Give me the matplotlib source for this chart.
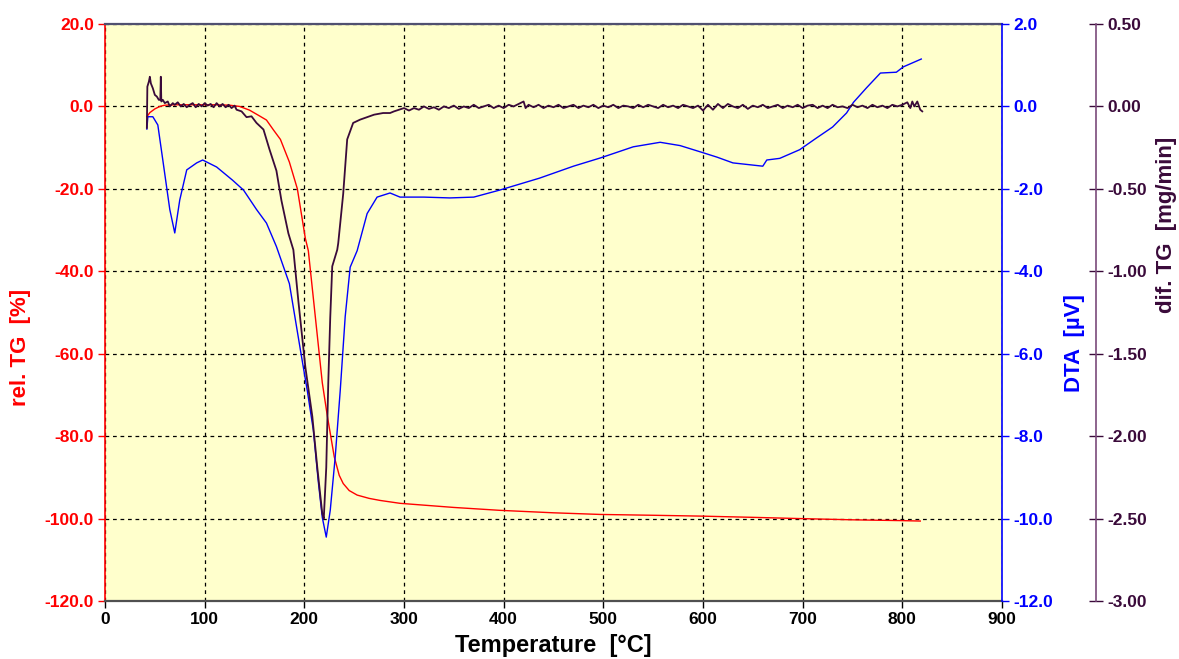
import matplotlib
matplotlib.use("Agg")
import matplotlib.pyplot as plt

plt.rcParams['font.family'] = ['Liberation Sans', 'DejaVu Sans']
plt.rcParams['font.weight'] = 'bold'

# ---------------- data ----------------
temp_ticks = [0, 100, 200, 300, 400, 500, 600, 700, 800, 900]
temp_labels = ['0', '100', '200', '300', '400', '500', '600', '700', '800', '900']

tg_ticks = [20, 0, -20, -40, -60, -80, -100, -120]
tg_labels = ['20.0', '0.0', '-20.0', '-40.0', '-60.0', '-80.0', '-100.0', '-120.0']
dta_ticks = [2, 0, -2, -4, -6, -8, -10, -12]
dta_labels = ['2.0', '0.0', '-2.0', '-4.0', '-6.0', '-8.0', '-10.0', '-12.0']
dtg_ticks = [0.5, 0, -0.5, -1.0, -1.5, -2.0, -2.5, -3.0]
dtg_labels = ['0.50', '0.00', '-0.50', '-1.00', '-1.50', '-2.00', '-2.50', '-3.00']

# rel. TG [%]
T_tg = [42, 45, 50, 55, 60, 70, 90, 110, 125, 135, 145, 155, 162, 169, 176, 185,
        193, 201, 204, 211, 218, 223, 230, 235, 239, 245, 253, 265, 276, 296, 350,
        396, 450, 497, 550, 597, 650, 697, 750, 800, 818]
tg = [-2.5, -1.5, -0.6, 0.0, 0.3, 0.4, 0.4, 0.4, 0.3, 0.0, -0.9, -2.3, -3.3, -5.7,
      -8.0, -13.5, -20.0, -32.0, -35.0, -51.0, -67.0, -75.0, -85.0, -89.5, -91.5,
      -93.2, -94.3, -95.1, -95.6, -96.3, -97.3, -98.0, -98.6, -99.0, -99.2, -99.4,
      -99.7, -100.0, -100.3, -100.5, -100.6]

# DTA [uV]
T_dta = [42, 43, 48, 53, 58, 65, 70, 75, 82, 92, 98, 112, 128, 139, 152, 162, 172,
         185, 196, 203, 209, 214, 218, 222, 226, 231, 236, 241, 246, 253, 263, 273,
         286, 296, 320, 346, 370, 396, 436, 470, 497, 530, 557, 577, 597, 614, 630,
         660, 664, 677, 697, 713, 730, 744, 751, 764, 778, 794, 801, 819]
dta = [-0.55, -0.25, -0.25, -0.45, -1.3, -2.5, -3.07, -2.27, -1.54, -1.37, -1.3,
       -1.47, -1.79, -2.03, -2.5, -2.83, -3.4, -4.3, -5.9, -6.9, -7.85, -9.1, -9.97,
       -10.45, -9.8, -8.5, -6.9, -5.1, -3.9, -3.5, -2.6, -2.2, -2.1, -2.2, -2.2,
       -2.22, -2.2, -2.03, -1.74, -1.45, -1.25, -0.98, -0.87, -0.95, -1.1, -1.23,
       -1.37, -1.45, -1.3, -1.26, -1.05, -0.78, -0.5, -0.16, 0.1, 0.45, 0.81, 0.83,
       0.96, 1.15]

# dif. TG [mg/min]
T_dtg = [42, 42.5, 44, 45, 46, 48, 50, 52, 54, 55.5, 56, 56.5, 58,
         60, 63, 65, 68, 70, 73, 76, 79, 82, 85, 88, 91, 94, 97, 100, 103, 106,
         109, 112, 115, 118, 121, 124, 127, 130,
         132, 137, 142, 147, 152, 159, 165, 172, 177, 184, 189, 194, 201, 208, 213,
         218, 219.5, 222, 224, 226, 228, 233, 234, 239, 243, 249, 256, 263, 270,
         279, 286, 290,
         295, 300, 305, 310, 315, 320, 325, 330, 335, 340, 345, 350, 355, 360, 365,
         370, 375, 380, 385, 390, 395, 400, 405, 410, 415, 420, 422, 425, 430, 435,
         440, 445, 450, 455, 460, 465, 470, 475, 480, 485, 490, 495, 500, 505, 510,
         515, 520, 525, 530, 535, 540, 545, 550, 555, 560, 565, 570, 575, 580, 585,
         590, 595, 600, 605, 610, 615, 620, 625, 630, 635, 640, 645, 650, 655, 660,
         665, 670, 675, 680, 685, 690, 695, 700, 705, 710, 715, 720, 725, 730, 735,
         740, 745, 750, 755, 760, 765, 770, 775, 780, 785, 790, 795, 800, 805, 808,
         810, 812, 815, 818, 820]
dtg = [-0.13, 0.12, 0.15, 0.18, 0.14, 0.11, 0.07, 0.06, 0.04, 0.04, 0.18, 0.03, 0.04,
       0.02, 0.03, 0.0, 0.02, 0.01, 0.025, 0.0, 0.015, -0.005, 0.01, 0.02, -0.005,
       0.015, 0.0, 0.02, 0.005, 0.015, -0.005, 0.02, 0.0, 0.015, -0.005, 0.01, -0.01,
       0.005,
       -0.02, -0.03, -0.065, -0.06, -0.10, -0.14, -0.26, -0.39, -0.57, -0.77, -0.87,
       -1.18, -1.58, -1.88, -2.19, -2.47, -2.50, -2.19, -1.68, -1.28, -0.97, -0.87,
       -0.83, -0.53, -0.20, -0.10, -0.08, -0.065, -0.05, -0.04, -0.04, -0.03,
       -0.02, -0.01, -0.025, -0.01, -0.02, 0.0, -0.015, -0.005, -0.02, 0.0, -0.01,
       0.005, -0.015, 0.0, -0.01, 0.01, -0.01, 0.0, 0.01, -0.01, 0.005, -0.01, 0.01,
       0.0, 0.015, 0.03, -0.01, 0.01, -0.005, 0.01, -0.01, 0.005, -0.005, 0.01,
       -0.01, 0.0, 0.01, -0.01, 0.005, -0.005, 0.01, -0.01, 0.005, -0.005, 0.01,
       -0.01, 0.005, 0.0, -0.01, 0.01, -0.005, 0.01, 0.0, -0.01, 0.01, -0.005, 0.005,
       -0.01, 0.01, 0.0, -0.01, 0.005, -0.025, 0.01, -0.02, 0.015, -0.01, 0.015, 0.0,
       -0.01, 0.01, -0.015, 0.005, -0.005, 0.01, -0.01, 0.0, 0.01, -0.01, 0.005,
       -0.005, 0.01, -0.01, 0.005, 0.01, -0.01, 0.005, -0.01, 0.01, -0.005, 0.0,
       -0.01, 0.01, -0.005, 0.005, -0.01, 0.01, -0.005, 0.005, -0.01, 0.01, 0.0,
       0.01, 0.025, -0.01, 0.03, 0.0, 0.03, -0.02, -0.03]

# ---------------- styling ----------------
RED = '#FF0000'
BLUE = '#0000FF'
PURPLE = '#3A0A3A'
PURPLE_SPINE = '#7A4A7A'
BG = '#FFFFCC'
TICK_FS = 12.5
LABEL_FS = 16

W, H = 1179, 659
fig = plt.figure(figsize=(W / 100, H / 100), dpi=100)
L, R, T, B = 105, 1002, 24, 601
ax = fig.add_axes([L / W, 1 - B / H, (R - L) / W, (B - T) / H])
ax.set_facecolor(BG)

ax2 = ax.twinx()
ax3 = ax.twinx()

# lines
ax2.plot(T_dta, dta, color=BLUE, lw=1.0, zorder=3)
ax.plot(T_tg, tg, color=RED, lw=1.0, zorder=3)
ax3.plot(T_dtg, dtg, color=PURPLE, lw=1.3, zorder=4)

# limits
ax.set_xlim(0, 900)
ax.set_ylim(-120, 20)
ax2.set_ylim(-12, 2)
ax3.set_ylim(-3, 0.5)

# x axis
ax.set_xticks(temp_ticks)
ax.set_xticklabels(temp_labels)
ax.tick_params(axis='x', colors='black', labelsize=TICK_FS, length=5, width=1, pad=3)
for lab in ax.get_xticklabels():
    lab.set_fontweight('bold')
ax.set_xlabel('Temperature  [°C]', fontsize=17, fontweight='bold', labelpad=5)

# left axis
ax.set_yticks(tg_ticks)
ax.set_yticklabels(tg_labels)
ax.tick_params(axis='y', colors=RED, labelsize=TICK_FS, length=5, width=1, pad=3)
for lab in ax.get_yticklabels():
    lab.set_fontweight('bold')
ax.set_ylabel('rel. TG  [%]', color=RED, fontsize=LABEL_FS, fontweight='bold')
ax.yaxis.set_label_coords(-0.082, 0.44)

# DTA axis
ax2.set_yticks(dta_ticks)
ax2.set_yticklabels(dta_labels)
ax2.tick_params(axis='y', colors=BLUE, labelsize=TICK_FS, length=5, width=1, pad=3)
for lab in ax2.get_yticklabels():
    lab.set_fontweight('bold')
ax2.set_ylabel('DTA  [µV]', color=BLUE, fontsize=LABEL_FS, fontweight='bold')
ax2.yaxis.set_label_coords(1.069, 0.447)

# dif TG axis
ax3.spines['right'].set_position(('axes', (1096 - L) / (R - L)))
ax3.set_yticks(dtg_ticks)
ax3.set_yticklabels(dtg_labels)
ax3.tick_params(axis='y', colors=PURPLE, labelsize=TICK_FS, length=10, width=1,
                direction='inout', pad=3)
for t in ax3.yaxis.get_ticklines():
    t.set_color(PURPLE_SPINE)
for lab in ax3.get_yticklabels():
    lab.set_fontweight('bold')
ax3.set_ylabel('dif. TG  [mg/min]', color=PURPLE, fontsize=LABEL_FS, fontweight='bold')
ax3.yaxis.set_label_coords(1.172, 0.652)

# spines
for s in ['top', 'bottom', 'left', 'right']:
    ax2.spines[s].set_visible(False)
    ax3.spines[s].set_visible(False)
ax.spines['right'].set_visible(False)
ax2.spines['right'].set_visible(True)
ax2.spines['right'].set_color(BLUE)
ax2.spines['right'].set_linewidth(1.2)
ax3.spines['right'].set_visible(True)
ax3.spines['right'].set_color(PURPLE_SPINE)
ax3.spines['right'].set_linewidth(1.2)
ax.spines['left'].set_color(RED)
ax.spines['left'].set_linewidth(1.2)
ax.spines['bottom'].set_color('#505050')
ax.spines['bottom'].set_linewidth(1.6)
ax.spines['top'].set_color('#505070')
ax.spines['top'].set_linewidth(1.6)

# grid
ax.grid(True, color='black', linestyle=(0, (3, 3)), linewidth=0.9)
ax.set_axisbelow(True)

fig.savefig('out.png', dpi=100)
